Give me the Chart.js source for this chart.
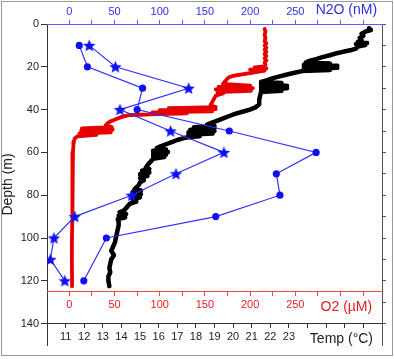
<!DOCTYPE html>
<html>
<head>
<meta charset="utf-8">
<script src="https://cdn.jsdelivr.net/npm/chart.js@4/dist/chart.umd.min.js"></script>
<style>
  body { margin: 0; background: #fff; }
  #wrap { position: relative; width: 394px; height: 359px; }
  #frame { position: absolute; left: 1px; top: 1px; width: 392px; height: 355px; box-sizing: border-box; border: 1px solid #999; pointer-events: none; }
  canvas { position: absolute; left: 0; top: 0; }
</style>
</head>
<body>
<div id="wrap">
  <canvas id="profile" width="394" height="359"></canvas>
  <div id="frame"></div>
</div>
<script>
// depth profiles: temperature (black), O2 (red), N2O (blue, two stations)

const tempDepth = [
  2.0, 2.8, 3.6, 4.5, 5.5, 6.5, 7.5, 8.4, 8.9, 9.4,
  9.8, 10.5, 11.5, 12.3, 13.0, 13.8, 14.6, 15.5, 16.3, 17.2,
  18.0, 18.5, 19.0, 19.5, 20.0, 20.5, 21.0, 21.5, 22.0, 22.8,
  23.6, 24.5, 25.4, 26.3, 27.1, 27.6, 28.2, 28.8, 29.4, 30.0,
  30.6, 31.2, 31.8, 33.5, 35.5, 37.5, 39.0, 40.0, 41.0, 42.0,
  43.0, 44.0, 45.0, 46.0, 47.0, 47.6, 48.2, 48.8, 49.4, 50.0,
  50.6, 51.2, 51.8, 52.5, 53.2, 54.2, 55.2, 56.2, 57.2, 58.0,
  58.6, 59.2, 59.8, 60.4, 61.0, 61.6, 62.2, 63.0, 64.0, 65.0,
  66.0, 67.2, 67.8, 68.6, 69.4, 70.2, 71.0, 72.0, 73.0, 74.0,
  75.0, 76.0, 77.2, 77.8, 78.6, 79.4, 80.2, 81.0, 82.0, 83.0,
  84.0, 85.5, 87.0, 88.0, 88.8, 89.6, 90.4, 91.2, 92.5, 94.0,
  96.0, 98.0, 100.0, 102.0, 104.0, 106.0, 108.0, 110.0, 112.0, 114.0,
  116.0, 118.0, 120.0, 122.5
];
const tempC = [
  27.3, 27.4, 27.1, 26.9, 27.0, 26.8, 26.9, 26.7, 27.2, 26.6,
  27.1, 26.7, 26.6, 26.3, 25.9, 25.5, 25.2, 24.8, 24.5, 24.1,
  23.9, 25.2, 23.8, 25.6, 23.8, 25.6, 23.8, 25.2, 23.7, 23.3,
  22.9, 22.5, 22.1, 21.8, 21.5, 22.6, 21.5, 22.9, 21.5, 22.9,
  21.5, 22.6, 21.5, 21.45, 21.4, 21.4, 21.2, 20.9, 20.5, 20.1,
  19.8, 19.5, 19.2, 18.9, 18.6, 19.0, 17.9, 19.0, 17.7, 19.0,
  17.6, 18.9, 17.6, 18.2, 17.4, 17.0, 16.7, 16.4, 16.1, 15.9,
  16.4, 15.7, 16.5, 15.7, 16.4, 15.7, 16.3, 15.7, 15.6, 15.5,
  15.4, 15.3, 15.5, 15.1, 15.5, 15.0, 15.4, 15.0, 15.2, 15.0,
  14.95, 14.85, 14.7, 15.05, 14.6, 15.05, 14.6, 15.0, 14.6, 14.8,
  14.45, 14.3, 14.15, 13.9, 14.25, 13.85, 14.2, 13.8, 13.85, 13.85,
  13.8, 13.75, 13.7, 13.65, 13.55, 13.45, 13.6, 13.45, 13.4, 13.35,
  13.4, 13.3, 13.3, 13.35
];

const o2Depth = [
  2.3, 3.5, 5.0, 6.5, 8.0, 9.0, 10.0, 11.0, 12.0, 13.0,
  14.0, 15.0, 16.0, 17.0, 18.0, 19.0, 19.8, 20.3, 20.8, 21.3,
  21.8, 22.4, 22.9, 23.4, 23.9, 24.4, 25.0, 26.0, 27.0, 28.0,
  28.8, 29.4, 30.0, 30.6, 31.2, 31.8, 32.5, 33.5, 35.0, 36.5,
  38.0, 38.8, 39.3, 39.8, 40.3, 40.8, 41.3, 41.8, 42.2, 42.4,
  42.6, 43.4, 44.4, 45.4, 46.4, 47.5, 48.2, 48.8, 49.4, 50.0,
  50.6, 51.2, 51.8, 52.5, 53.5, 55.0, 57.0, 60.0, 65.0, 70.0,
  80.0, 90.0, 100.0, 110.0, 120.0, 122.5
];
const o2Value = [
  216, 217, 216, 217, 216, 218, 216, 218, 216, 218,
  216, 218, 216, 218, 216, 217, 216, 205, 218, 200,
  216, 208, 200, 193, 186, 180, 176, 174, 172, 170,
  200, 165, 203, 162, 201, 164, 170, 162, 160, 158,
  156, 162, 110, 162, 100, 158, 92, 130, 90, 78,
  66, 58, 52, 46, 42, 40, 47, 14, 48, 13,
  46, 11, 30, 9, 6, 5, 4.5, 4, 3.8, 3.6,
  3.3, 3.0, 2.9, 2.8, 3.0, 3.0
];

const n2oCircleDepth = [10, 20, 30, 40, 50, 60, 70, 80, 90, 100, 120];
const n2oCircle = [11, 20, 81, 75, 177, 273, 229, 233, 162, 41, 16];
const n2oStarDepth = [10, 20, 30, 40, 50, 60, 70, 80, 90, 100, 110, 120];
const n2oStar = [22, 51, 132, 56, 112, 171, 118, 69, 6, -17, -21, -5];

const depthTicks = [0, 20, 40, 60, 80, 100, 120, 140];
const depthMinor = [0, 10, 20, 30, 40, 50, 60, 70, 80, 90, 100, 110, 120, 130, 140];
const concTicks = [0, 25, 50, 75, 100, 125, 150, 175, 200, 225, 250, 275, 300, 325];
const tempTicks = [11, 12, 13, 14, 15, 16, 17, 18, 19, 20, 21, 22, 23, 24, 25, 26, 27];

// axis names sit in the tick-label row, at these values
const N2O_TITLE_AT = 306.5;
const O2_TITLE_AT = 306.5;
const TEMP_TITLE_AT = 25.82;

Chart.defaults.font.family = '"Liberation Sans", Arial, sans-serif';

const pts = (xs, ds) => xs.map((v, i) => ({ x: v, y: ds[i] }));

function starImage(size, color) {
  const c = document.createElement('canvas');
  c.width = c.height = size;
  const g = c.getContext('2d');
  const R = size / 2, r = R * 0.45;
  g.beginPath();
  for (let i = 0; i < 10; i++) {
    const a = -Math.PI / 2 + i * Math.PI / 5;
    const rad = i % 2 ? r : R;
    g.lineTo(R + rad * Math.cos(a), R + 0.6 + rad * Math.sin(a));
  }
  g.closePath();
  g.fillStyle = color;
  g.fill();
  return c;
}

function withTitle(list, at) {
  return list.concat([at]).sort((a, b) => a - b).map(v => ({ value: v }));
}

function concAxis(position, titleAt, titleText, lineColor, textColor, pad) {
  return {
    type: 'linear', axis: 'x', position: position, bounds: 'data',
    min: -24.7, max: 345.9,
    afterBuildTicks: s => { s.ticks = withTitle(concTicks, titleAt); },
    ticks: {
      autoSkip: false, maxRotation: 0, padding: pad, color: textColor,
      font: c => ({ size: c.tick && c.tick.value === titleAt ? 14 : 11 }),
      callback: v => v === titleAt ? titleText : (v % 50 === 0 && v <= 250 ? String(v) : '')
    },
    grid: {
      drawOnChartArea: false, tickLength: 4,
      tickColor: c => c.tick && c.tick.value === titleAt ? 'rgba(0,0,0,0)' : lineColor
    },
    border: { color: lineColor, width: 1 }
  };
}

const blue = '#1010f5';
const red = '#e60000';

new Chart(document.getElementById('profile'), {
  type: 'scatter',
  data: {
    datasets: [
      {
        label: 'N2O (circles)', data: pts(n2oCircle, n2oCircleDepth),
        xAxisID: 'xN', yAxisID: 'y', showLine: true, order: 0,
        borderColor: '#3030ff', borderWidth: 1.2,
        pointStyle: 'circle', pointRadius: 3.6, pointBorderWidth: 0,
        pointBackgroundColor: blue
      },
      {
        label: 'N2O (stars)', data: pts(n2oStar, n2oStarDepth),
        xAxisID: 'xN', yAxisID: 'y', showLine: true, order: 1,
        borderColor: '#3030ff', borderWidth: 1.2,
        pointStyle: starImage(13, blue), pointRadius: 6
      },
      {
        label: 'O2', data: pts(o2Value, o2Depth),
        xAxisID: 'xO', yAxisID: 'y', showLine: true, order: 2,
        borderColor: red, borderWidth: 3.8,
        borderJoinStyle: 'round', borderCapStyle: 'round',
        pointStyle: 'rect', pointRadius: 1.8, pointBorderWidth: 0,
        pointBackgroundColor: red
      },
      {
        label: 'Temp', data: pts(tempC, tempDepth),
        xAxisID: 'xT', yAxisID: 'y', showLine: true, order: 3,
        borderColor: '#000', borderWidth: 4.5,
        borderJoinStyle: 'round', borderCapStyle: 'round',
        pointStyle: 'rect', pointRadius: 2.2, pointBorderWidth: 0,
        pointBackgroundColor: '#000'
      }
    ]
  },
  options: {
    responsive: false,
    animation: false,
    events: [],
    layout: { padding: { left: 0, top: 0, right: 0, bottom: 14 } },
    plugins: { legend: { display: false }, tooltip: { enabled: false } },
    scales: {
      y: {
        type: 'linear', position: 'left', reverse: true, bounds: 'data',
        min: 0, max: 150,
        afterFit: s => { s.width = 47; },
        afterBuildTicks: s => { s.ticks = depthTicks.map(v => ({ value: v })); },
        ticks: { color: '#222', font: { size: 11 }, padding: 2 },
        grid: { drawOnChartArea: false, tickLength: 6, tickColor: '#333' },
        border: { color: '#333', width: 1 },
        title: {
          display: true, text: 'Depth (m)', color: '#222',
          font: { size: 14 }, padding: { top: 0, bottom: 0 }
        }
      },
      yR: {
        type: 'linear', position: 'right', reverse: true, bounds: 'data',
        min: 0, max: 150,
        afterFit: s => { s.width = 12; },
        afterBuildTicks: s => { s.ticks = depthMinor.map(v => ({ value: v })); },
        ticks: { display: false },
        grid: { drawOnChartArea: false, tickLength: 4, tickColor: '#555' },
        border: { color: '#555', width: 1 }
      },
      xN: Object.assign(concAxis('top', N2O_TITLE_AT, 'N2O (nM)', '#5a5aff', '#2f2fe8', 1), {
        afterFit: s => { s.height = 24; }
      }),
      xO: concAxis({ y: 125 }, O2_TITLE_AT, 'O2 (\u00b5M)', '#f04848', '#e51c1c', 3),
      xT: {
        type: 'linear', axis: 'x', position: { y: 140 }, bounds: 'data',
        min: 10, max: 28,
        afterBuildTicks: s => { s.ticks = withTitle(tempTicks, TEMP_TITLE_AT); },
        ticks: {
          autoSkip: false, maxRotation: 0, padding: 3, color: '#222',
          font: c => ({ size: c.tick && c.tick.value === TEMP_TITLE_AT ? 14 : 11 }),
          callback: v => v === TEMP_TITLE_AT ? 'Temp (\u00b0C)' : (v <= 23 ? String(v) : '')
        },
        grid: {
          drawOnChartArea: false, tickLength: 4,
          tickColor: c => c.tick && c.tick.value === TEMP_TITLE_AT ? 'rgba(0,0,0,0)' : '#333'
        },
        border: { color: '#333', width: 1 }
      }
    }
  }
});
</script>
</body>
</html>
